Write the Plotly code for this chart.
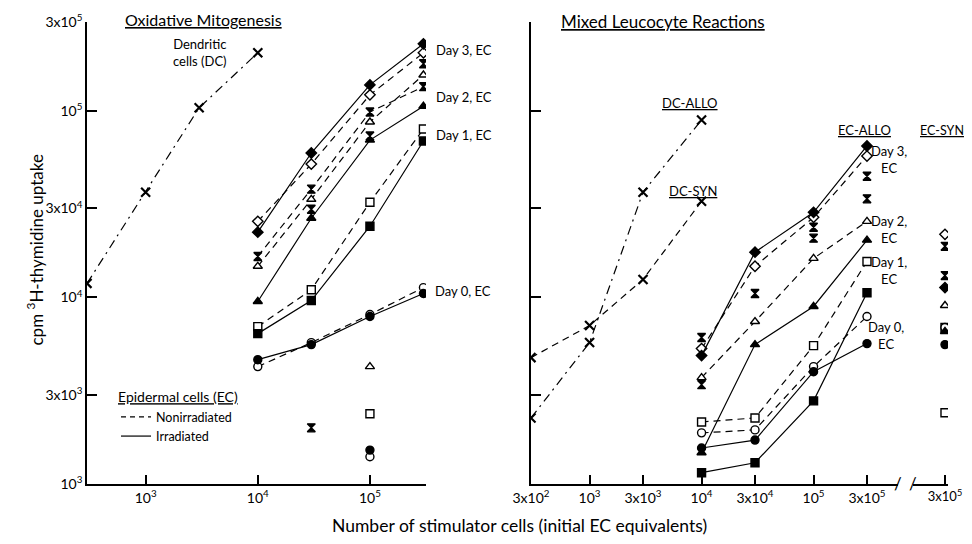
import plotly.graph_objects as go

# ---------------- data (cpm 3H-thymidine) ----------------
# Left panel: oxidative mitogenesis
dc_x = [3e2, 1e3, 3e3, 1e4]
mito_dc = [1.19e4, 3.67e4, 1.04e5, 2.05e5]

ec_x = [1e4, 3e4, 1e5, 3e5]
mito_day3_irr = [2.24e4, 5.95e4, 1.38e5, 2.29e5]
mito_day3_non = [2.56e4, 5.19e4, 1.22e5, 2.05e5]
mito_day2_non = [1.47e4, 3.36e4, 8.73e4, 1.56e5]
mito_day2_irr = [9.52e3, 2.66e4, 6.98e4, 1.06e5]
mito_day2_hg = [1.66e4, 3.81e4, 9.88e4, 1.35e5]
mito_hg_pts_x = [3e4, 1e5, 3e5, 3e4]
mito_hg_pts = [2.97e4, 7.34e4, 1.79e5, 2.0e3]
mito_day1_non = [6.98e3, 1.10e4, 3.24e4, 8.0e4]
mito_day1_irr = [6.40e3, 9.63e3, 2.41e4, 6.90e4]
mito_day0_non = [4.26e3, 5.73e3, 8.10e3, 1.13e4]
mito_day0_irr = [4.64e3, 5.59e3, 7.91e3, 1.05e4]
ctrl_x = [1e5]
ctrl_tri_open = [4.26e3]
ctrl_sq_open = [2.38e3]
ctrl_circ_fill = [1.52e3]
ctrl_circ_open = [1.40e3]

# Right panel: mixed leucocyte reactions
mlr_dc_allo = [2.26e3, 5.73e3, 3.67e4, 8.95e4]
mlr_dc_syn = [4.76e3, 7.07e3, 1.25e4, 3.28e4]
mlr_day3_irr = [4.88e3, 1.75e4, 2.86e4, 6.49e4]
mlr_day3_non = [5.32e3, 1.47e4, 2.69e4, 5.73e4]
mlr_day2_non = [3.72e3, 7.43e3, 1.62e4, 2.56e4]
mlr_day2_irr = [1.47e3, 5.59e3, 8.95e3, 2.03e4]
mlr_day1_non = [2.15e3, 2.26e3, 5.52e3, 1.56e4]
mlr_day1_irr = [1.15e3, 1.30e3, 2.79e3, 1.06e4]
mlr_day0_non = [1.88e3, 1.95e3, 4.26e3, 7.91e3]
mlr_day0_irr = [1.56e3, 1.72e3, 4.0e3, 5.66e3]
mlr_hg_x = [1e4, 1e4, 3e4, 1e5, 1e5, 3e5, 3e5]
mlr_hg = [6.10e3, 3.41e3, 1.05e4, 2.38e4, 2.08e4, 4.47e4, 3.38e4]

# EC-SYN column (3x10^5 EC)
syn_x = [3e5]
syn_day3_non = [2.18e4]
syn_hg = [1.88e4, 1.31e4]
syn_day3_irr = [1.13e4]
syn_day2_non = [9.06e3]
syn_day1_irr = [6.90e3]
syn_day0_non = [6.90e3]
syn_day2_irr = [6.57e3]
syn_day0_irr = [5.59e3]
syn_day1_non = [2.41e3]

y_ticks = [1e3, 3e3, 1e4, 3e4, 1e5, 3e5]
y_text = ["10<sup>3</sup>", "3x10<sup>3</sup>", "10<sup>4</sup>", "3x10<sup>4</sup>",
          "10<sup>5</sup>", "3x10<sup>5</sup>"]
xl_ticks = [1e3, 1e4, 1e5]
xl_text = ["10<sup>3</sup>", "10<sup>4</sup>", "10<sup>5</sup>"]
xr_ticks = [3e2, 1e3, 3e3, 1e4, 3e4, 1e5, 3e5]
xr_text = ["3x10<sup>2</sup>", "10<sup>3</sup>", "3x10<sup>3</sup>", "10<sup>4</sup>",
           "3x10<sup>4</sup>", "10<sup>5</sup>", "3x10<sup>5</sup>"]
x3_ticks = [3e5]
x3_text = ["3x10<sup>5</sup>"]

OFF = 8  # page offset of the plot div
W, H = 972 - 2 * OFF, 544 - 2 * OFF
FONT = "Lato"
BLACK = "black"


def P(xp, yp):
    return (xp - OFF) / W, 1 - (yp - OFF) / H


def DX(a, b):
    return [(a - OFF) / W, (b - OFF) / W]


SYM = {
    "circle": ("circle", BLACK), "circle-o": ("circle", "white"),
    "square": ("square", BLACK), "square-o": ("square", "white"),
    "tri": ("triangle-up", BLACK), "tri-o": ("triangle-up", "white"),
    "dia": ("diamond", BLACK), "dia-o": ("diamond", "white"),
    "hg": ("hourglass", BLACK), "x": ("x-thin", BLACK),
}

fig = go.Figure()


def add(x, y, sym, dash=None, xa="x", ya="y", size=8):
    s, fill = SYM[sym]
    mode = "lines+markers" if dash else "markers"
    line = dict(color=BLACK, width=1.2, dash=dash) if dash else None
    if sym == "x":
        marker = dict(symbol=s, size=size + 1, line=dict(color=BLACK, width=2.2))
    else:
        marker = dict(symbol=s, size=size, color=fill, line=dict(color=BLACK, width=1.4))
    kw = dict(x=x, y=y, mode=mode, marker=marker, xaxis=xa, yaxis=ya,
              showlegend=False, hoverinfo="x+y")
    if line:
        kw["line"] = line
    fig.add_trace(go.Scatter(**kw))


DASH = "7px,5px"
DASHDOT = "9px,5px,2px,5px"

# ---- left panel ----
add(dc_x, mito_dc, "x", DASHDOT)
add(ec_x, mito_day0_non, "circle-o", DASH)
add(ec_x, mito_day0_irr, "circle", "solid")
add(ec_x, mito_day1_non, "square-o", DASH)
add(ec_x, mito_day1_irr, "square", "solid")
add(ec_x, mito_day2_hg, "hg", DASH)
add(ec_x, mito_day2_non, "tri-o", DASH)
add(ec_x, mito_day2_irr, "tri", "solid")
add(mito_hg_pts_x, mito_hg_pts, "hg")
add(ec_x, mito_day3_non, "dia-o", DASH)
add(ec_x, mito_day3_irr, "dia", "solid")
add(ctrl_x, ctrl_tri_open, "tri-o")
add(ctrl_x, ctrl_sq_open, "square-o")
add(ctrl_x, ctrl_circ_open, "circle-o")
add(ctrl_x, ctrl_circ_fill, "circle")

# ---- right panel ----
add(dc_x, mlr_dc_allo, "x", DASHDOT, "x2", "y2")
add(dc_x, mlr_dc_syn, "x", DASH, "x2", "y2")
add(ec_x, mlr_day0_non, "circle-o", DASH, "x2", "y2")
add(ec_x, mlr_day0_irr, "circle", "solid", "x2", "y2")
add(ec_x, mlr_day1_non, "square-o", DASH, "x2", "y2")
add(ec_x, mlr_day1_irr, "square", "solid", "x2", "y2")
add(ec_x, mlr_day2_non, "tri-o", DASH, "x2", "y2")
add(ec_x, mlr_day2_irr, "tri", "solid", "x2", "y2")
add(mlr_hg_x, mlr_hg, "hg", None, "x2", "y2")
add(ec_x, mlr_day3_non, "dia-o", DASH, "x2", "y2")
add(ec_x, mlr_day3_irr, "dia", "solid", "x2", "y2")

# ---- EC-SYN column ----
add(syn_x, syn_day3_non, "dia-o", None, "x3", "y2")
add(syn_x * 2, syn_hg, "hg", None, "x3", "y2")
add(syn_x, syn_day3_irr, "dia", None, "x3", "y2")
add(syn_x, syn_day2_non, "tri-o", None, "x3", "y2")
add(syn_x, syn_day1_irr, "square", None, "x3", "y2")
add(syn_x, syn_day0_non, "circle-o", None, "x3", "y2")
add(syn_x, syn_day2_irr, "tri", None, "x3", "y2")
add(syn_x, syn_day0_irr, "circle", None, "x3", "y2")
add(syn_x, syn_day1_non, "square-o", None, "x3", "y2")

# legend entries (line styles only)
fig.add_trace(go.Scatter(x=[None], y=[None], mode="lines", name="Nonirradiated",
                         line=dict(color=BLACK, width=1.2, dash="5px,4px"), showlegend=True))
fig.add_trace(go.Scatter(x=[None], y=[None], mode="lines", name="Irradiated",
                         line=dict(color=BLACK, width=1.2), showlegend=True))

axis_common = dict(type="log", showline=True, linecolor=BLACK, linewidth=1.5,
                   ticks="inside", tickcolor=BLACK, tickwidth=1.5, showgrid=False,
                   zeroline=False, automargin=False,
                   tickfont=dict(family=FONT, size=14, color=BLACK))

ydom = [1 - (484 - OFF) / H, 1 - (22 - OFF) / H]
fig.update_layout(
    template="none",
    width=W, height=H, margin=dict(l=0, r=0, t=0, b=0, pad=0, autoexpand=False),
    paper_bgcolor="white", plot_bgcolor="white",
    font=dict(family=FONT, color=BLACK),
    xaxis=dict(axis_common, domain=DX(87, 426), range=[2.477, 5.50],
               tickvals=xl_ticks, ticktext=xl_text, ticklen=9, anchor="y"),
    yaxis=dict(axis_common, domain=ydom, range=[3, 5.477],
               tickvals=y_ticks, ticktext=y_text, ticklen=10, anchor="x"),
    xaxis2=dict(axis_common, domain=DX(531, 898), range=[2.477, 5.754],
                tickvals=xr_ticks, ticktext=xr_text, ticklen=9, anchor="y2"),
    yaxis2=dict(axis_common, domain=ydom, range=[3, 5.477],
                tickvals=y_ticks, showticklabels=False, ticklen=10, anchor="x2"),
    xaxis3=dict(axis_common, domain=DX(913, 948), range=[5.191, 5.504],
                tickvals=x3_ticks, ticktext=x3_text, ticklen=9, anchor="y2",
                tickfont=dict(family=FONT, size=13, color=BLACK)),
    legend=dict(x=(116 - OFF) / W, y=1 - (384 - OFF) / H, xanchor="left", yanchor="top",
                bgcolor="rgba(0,0,0,0)", font=dict(family=FONT, size=12.5),
                title=dict(text="Epidermal cells (EC)",
                           font=dict(family=FONT, size=14, lineposition="under")),
                tracegroupgap=0, itemwidth=30),
)

anns = []


def note(text, xp, yp, size=12, xanchor="center", under=False, align="center"):
    x, y = P(xp, yp)
    f = dict(family=FONT, size=size, color=BLACK)
    if under:
        f["lineposition"] = "under"
    anns.append(dict(text=text, x=x, y=y, xref="paper", yref="paper", showarrow=False,
                     xanchor=xanchor, yanchor="middle", font=f, align=align))


note("Oxidative Mitogenesis", 203, 20, 16, under=True)
note("Mixed Leucocyte Reactions", 663, 21, 17, under=True)
note("Dendritic<br>cells (DC)", 200, 52, 13)
note("Day 3, EC", 434, 50, 13, "left")
note("Day 2, EC", 434, 97, 13, "left")
note("Day 1, EC", 434, 135, 13, "left")
note("Day 0, EC", 433, 291, 13, "left")
note("DC-ALLO", 690, 103, 13, under=True)
note("DC-SYN", 693, 191, 13, under=True)
note("EC-ALLO", 864, 130, 13, under=True)
note("EC-SYN", 942, 130, 12.5, under=True)
note("Day 3,<br>EC", 889, 159, 13)
note("Day 2,<br>EC", 889, 229, 13)
note("Day 1,<br>EC", 889, 270, 13)
note("Day 0,<br>EC", 886, 335, 13)
note("Number of stimulator cells (initial EC equivalents)", 520, 525, 17.5)
note("/", 898, 483, 17)
note("/", 913, 483, 17)

xt, yt = P(22, 250)
anns.append(dict(text="cpm <sup>3</sup>H-thymidine uptake", x=xt, y=yt,
                 xref="paper", yref="paper", showarrow=False, textangle=-90,
                 font=dict(family=FONT, size=17, color=BLACK)))
fig.update_layout(annotations=anns)

fig.write_html("out.html")
